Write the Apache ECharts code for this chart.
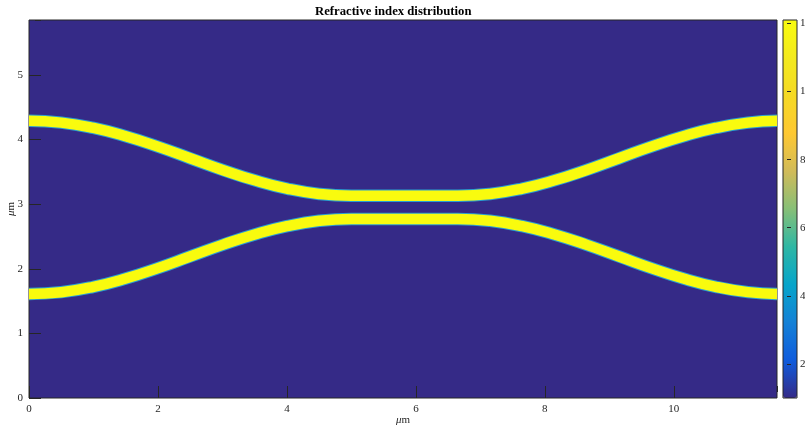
<!DOCTYPE html>
<html>
<head>
<meta charset="utf-8">
<script src="https://cdn.jsdelivr.net/npm/echarts@6/dist/echarts.min.js"></script>
<style>html,body{margin:0;padding:0;background:#fff}#c{width:805px;height:427px}</style>
</head>
<body>
<div id="c"></div>
<script>
// Waveguide centerlines (µm)
const xPos = [0,0.5,1,1.5,2,2.5,3,3.5,4,4.5,5,5.5,6,6.65,7.15,7.65,8.15,8.65,9.15,9.65,10.15,10.65,11.15,11.6];
const yUpper = [4.29,4.262,4.179,4.051,3.89,3.71,3.53,3.369,3.241,3.158,3.13,3.13,3.13,3.13,3.158,3.241,3.369,3.53,3.71,3.89,4.051,4.179,4.262,4.29];
const yLower = [1.61,1.638,1.721,1.849,2.01,2.19,2.37,2.531,2.659,2.742,2.77,2.77,2.77,2.77,2.742,2.659,2.531,2.37,2.19,2.01,1.849,1.721,1.638,1.61];
const xTicks = [0,2,4,6,8,10];
const yTicks = [0,1,2,3,4,5];
const cbTicks = [2,4,6,8,10,12];
const cbMin = 1, cbMax = 12.1;
const xMax = 11.6, yMax = 5.85;

const parula = ['#352a87','#0f5cdd','#1481d6','#06a4ca','#2eb7a4','#87bf77','#d1bb59','#fec832','#f5d924','#f3ea1e','#f9fb0e'];
const font = 'Liberation Serif';
const axisCol = '#262626';

const upper = xPos.map((x,i)=>[x,yUpper[i]]);
const lower = xPos.map((x,i)=>[x,yLower[i]]);

function wg(data, color, w, z){
  return {type:'line', xAxisIndex:0, yAxisIndex:0, data, showSymbol:false, symbol:'none',
    smooth:0.5, clip:true, silent:true, z,
    lineStyle:{color, width:w, cap:'butt', join:'round'}};
}

const chart = echarts.init(document.getElementById('c'), null, {renderer:'canvas'});
const tickLbl = {fontFamily:font, fontSize:11, color:axisCol};
const nameStyle = {fontFamily:font, fontSize:11, color:axisCol,
  rich:{i:{fontFamily:font, fontSize:11, fontStyle:'italic', color:axisCol}}};
// ticks drawn outward from an axis shifted 6px into the plot, so they sit inside the box
const tick = {show:true, inside:false, length:6, lineStyle:{color:axisCol, width:1}};
chart.setOption({
  animation:false,
  backgroundColor:'#ffffff',
  title:{text:'Refractive index distribution', left:315, top:5, padding:0,
    textStyle:{fontFamily:font, fontSize:12.7, fontWeight:'bold', color:'#000'}},
  grid:[
    {left:29, top:20, width:748, height:378, containLabel:false, outerBoundsMode:'none', show:true, backgroundColor:'#352a87', borderColor:axisCol, borderWidth:1, z:0},
    {left:783, top:20, width:14, height:378, containLabel:false, outerBoundsMode:'none', show:true, backgroundColor:'transparent', borderColor:axisCol, borderWidth:1, z:10}
  ],
  xAxis:[
    {type:'value', gridIndex:0, min:0, max:xMax, interval:2, position:'bottom', offset:-6, z:6,
      axisLine:{show:false}, splitLine:{show:false},
      axisTick:tick,
      axisLabel:{...tickLbl, margin:12, showMaxLabel:false},
      name:'{i|μ}m', nameLocation:'middle', nameGap:23, nameMoveOverlap:false,
      nameTextStyle:nameStyle},
    {type:'value', gridIndex:0, min:0, max:xMax, interval:2, position:'top', offset:-6, z:6,
      axisLine:{show:false}, splitLine:{show:false}, axisLabel:{show:false},
      axisTick:tick},
    {type:'value', gridIndex:1, min:0, max:1, show:false}
  ],
  yAxis:[
    {type:'value', gridIndex:0, min:0, max:yMax, interval:1, position:'left', offset:-6, z:6,
      axisLine:{show:false}, splitLine:{show:false},
      axisTick:tick,
      axisLabel:{...tickLbl, margin:12, showMaxLabel:false},
      name:'{i|μ}m', nameLocation:'middle', nameGap:18, nameRotate:90, nameMoveOverlap:false,
      nameTextStyle:nameStyle},
    {type:'value', gridIndex:0, min:0, max:yMax, interval:1, position:'right', offset:-6, z:6,
      axisLine:{show:false}, splitLine:{show:false}, axisLabel:{show:false},
      axisTick:tick},
    {type:'value', gridIndex:1, min:cbMin, max:cbMax, position:'right', offset:-4, z:10,
      axisLine:{show:false}, splitLine:{show:false},
      axisTick:{show:true, inside:false, length:4, customValues:cbTicks, lineStyle:{color:axisCol}},
      axisLabel:{...tickLbl, margin:7, customValues:cbTicks}}
  ],
  visualMap:{type:'continuous', min:cbMin, max:cbMax, seriesIndex:4, calculable:false, hoverLink:false,
    orient:'vertical', left:783, top:20, itemWidth:14, itemHeight:378, padding:0, text:null,
    inRange:{color:parula}},
  series:[
    wg(upper,'#2a9fd0',12.5,2),
    wg(lower,'#2a9fd0',12.5,2),
    wg(upper,'#f9fb0e',10.5,3),
    wg(lower,'#f9fb0e',10.5,3),
    {type:'scatter', xAxisIndex:2, yAxisIndex:2, data:[], silent:true}
  ]
});
</script>
</body>
</html>
